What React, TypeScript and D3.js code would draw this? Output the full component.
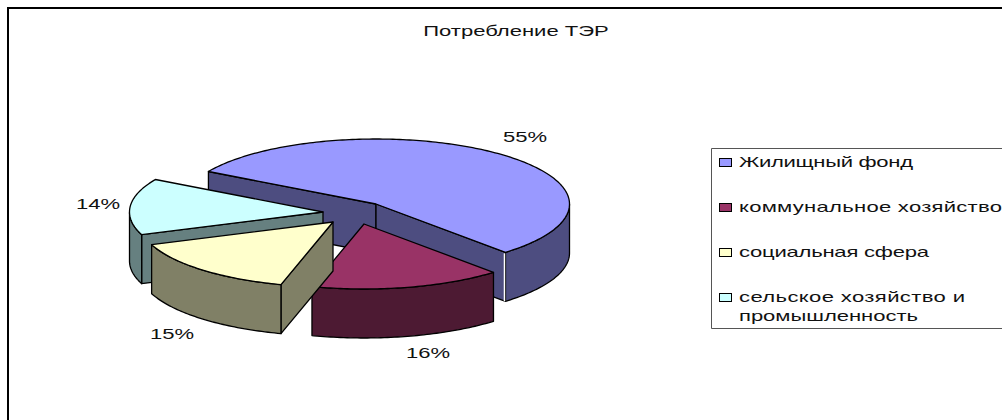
import * as d3 from "d3";
import React from "react";

const title = "Потребление ТЭР";
const categories = ["Жилищный фонд", "коммунальное хозяйство", "социальная сфера", "сельское хозяйство и промышленность"];
const values = [55, 16, 15, 14];
const colors = ["#9999ff", "#993366", "#ffffcc", "#ccffff"];
const sideColors = ["#4d4d80", "#4d1a33", "#808066", "#668080"];

// how far each slice is pulled out of the pie, in px
const explode = [[0, 0], [-12, 20], [-43, 18], [-53, 8]];
const drawOrder = [0, 1, 3, 2];
const labelPos = [[525, 142], [428, 358], [172, 339], [98, 209]];
const legendRows = [[167], [212], [257], [302, 321]];
const legendLines = [[categories[0]], [categories[1]], [categories[2]], ["сельское хозяйство и", "промышленность"]];
const legendWidths = [[174], [263], [190], [226, 179]];

const cx = 376;
const cy = 204;
const rx = 193.5;
const ry = 65;
const depth = 49;
const stretch = 1.47; // the picture's text is wider than it is tall

const pie = d3.pie<number>().sort(null).startAngle(-Math.PI / 3).endAngle((5 * Math.PI) / 3);
const slices = pie(values);
const line = d3.line();

const Stretched = ({ x, y, anchor, width, children }: any) => (
  <text
    transform={`translate(${x},${y}) scale(${stretch},1)`}
    textAnchor={anchor}
    fontSize={15}
    fill="#111"
    textLength={width ? width / stretch : undefined}
  >
    {children}
  </text>
);

export default function App() {
  const faces = slices.map((s, i) => {
    const ox = cx + explode[i][0];
    const oy = cy + explode[i][1];
    const at = (a: number): [number, number] => [ox + rx * Math.sin(a), oy - ry * Math.cos(a)];
    const arcAngles = d3.range(s.startAngle, s.endAngle, Math.PI / 180).concat(s.endAngle);
    const arcPts = arcAngles.map(at);
    const top = line([[ox, oy], ...arcPts] as [number, number][]) + "Z";
    const down = (p: [number, number]): [number, number] => [p[0], p[1] + depth];
    const wall = (a: number) => {
      const p = at(a);
      return line([[ox, oy], p, down(p), [ox, oy + depth]]) + "Z";
    };
    const cuts: string[] = [];
    if (Math.sin(s.startAngle) < 0) cuts.push(wall(s.startAngle));
    if (Math.sin(s.endAngle) > 0) cuts.push(wall(s.endAngle));
    // only the front half of the rim can be seen
    const front = arcAngles.filter((a) => Math.cos(a) < 0);
    const rimPts = front.map(at);
    const rim = rimPts.length > 1 ? line([...rimPts, ...rimPts.map(down).reverse()]) + "Z" : null;
    return { i, top, cuts, rim, seam: Math.sin(s.endAngle) > 0 ? at(s.endAngle) : null };
  });

  return (
    <svg width={1002} height={420} style={{ position: "absolute", left: 0, top: 0, background: "#fff" }} fontFamily="'Liberation Sans', Arial, sans-serif">
      <path d="M8,420V8H1002" fill="none" stroke="#000" strokeWidth={2} />
      <Stretched x={516} y={36} anchor="middle">{title}</Stretched>

      {drawOrder.map((k) => faces[k]).map((f) => (
        <g key={f.i} stroke="#000" strokeWidth={1.3} strokeLinejoin="round">
          {f.cuts.map((d, j) => (
            <path key={j} d={d} fill={sideColors[f.i]} />
          ))}
          {f.rim && <path d={f.rim} fill={sideColors[f.i]} />}
          {f.seam && (
            <line x1={f.seam[0] - 1} x2={f.seam[0] - 1} y1={f.seam[1] + 1} y2={f.seam[1] + depth} stroke="#fff" strokeWidth={1.5} />
          )}
          <path d={f.top} fill={colors[f.i]} />
        </g>
      ))}

      {values.map((v, i) => (
        <Stretched key={i} x={labelPos[i][0]} y={labelPos[i][1]} anchor="middle">{`${v}%`}</Stretched>
      ))}

      <path d="M1002,148.5H711.5V328.5H1002" fill="#fff" stroke="#555" strokeWidth={1} />
      {categories.map((c, i) => (
        <g key={c}>
          <rect x={719.5} y={legendRows[i][0] - 8.5} width={12} height={8} fill={colors[i]} stroke="#000" />
          {legendLines[i].map((t, j) => (
            <Stretched key={t} x={739} y={legendRows[i][j]} anchor="start" width={legendWidths[i][j]}>{t}</Stretched>
          ))}
        </g>
      ))}
    </svg>
  );
}
